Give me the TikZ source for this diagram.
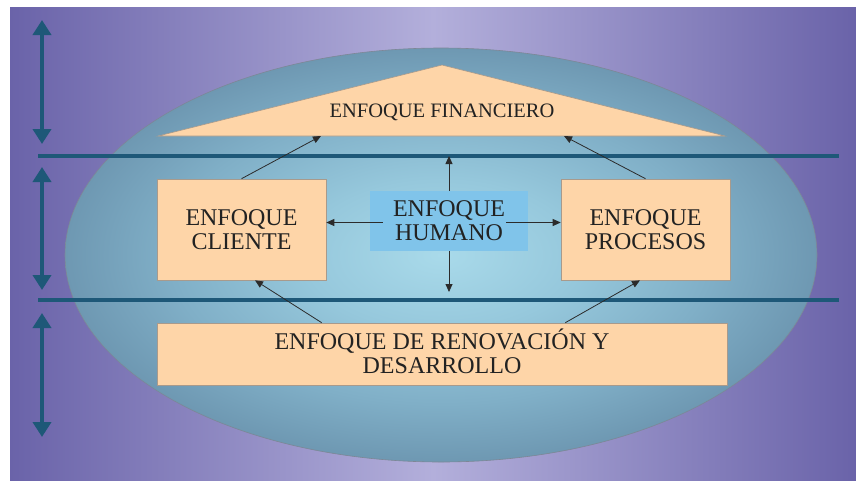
\documentclass[tikz,border=0pt]{standalone}
\usepackage{fontspec}
\setmainfont{Liberation Serif}
\usetikzlibrary{arrows.meta}
\definecolor{bgdark}{HTML}{6A63A9}
\definecolor{bglight}{HTML}{B3AFDB}
\definecolor{elA}{RGB}{169,218,234}
\definecolor{elB}{RGB}{150,200,220}
\definecolor{elC}{RGB}{128,175,199}
\definecolor{elD}{RGB}{110,152,178}
\definecolor{elborder}{HTML}{7D8796}
\definecolor{peach}{HTML}{FED5A8}
\definecolor{peachborder}{HTML}{A89A8C}
\definecolor{humblue}{HTML}{80C4EA}
\definecolor{navy}{HTML}{1E5878}
\definecolor{arrowgray}{HTML}{2B2B2B}
\definecolor{txt}{HTML}{222222}
\pgfdeclareradialshading[elA,elB,elC,elD]{ellglow}{\pgfpoint{0bp}{0bp}}{%
  color(0bp)=(elA);
  color(9bp)=(elB);
  color(18bp)=(elC);
  color(25bp)=(elD);
  color(50bp)=(elD)}
\tikzset{
  peachbox/.style={draw=peachborder, line width=0.6pt, fill=peach, rectangle, inner sep=0pt,
    text=txt, align=center, font=\fontsize{24}{24}\selectfont},
  humbox/.style={fill=humblue, rectangle, inner sep=0pt, text=txt, align=center,
    font=\fontsize{24}{24}\selectfont},
  hline/.style={draw=navy, line width=3.2pt},
  bigarrow/.style={draw=navy, line width=4pt,
    {Triangle[width=18pt,length=15pt]}-{Triangle[width=18pt,length=15pt]}},
  thinarrow/.style={draw=arrowgray, line width=0.8pt, -{Triangle[length=8pt,width=7pt]}}
}
\begin{document}
\begin{tikzpicture}[x=1pt,y=-1pt]
\useasboundingbox (0,0) rectangle (856,480);
\fill[white] (0,0) rectangle (856,480);
% background
\shade[left color=bgdark, right color=bgdark, middle color=bglight] (10,7) rectangle (856,480);
% ellipse
\shadedraw[shading=ellglow, draw=elborder, line width=0.6pt]
  (441,255) ellipse [x radius=376pt, y radius=207pt];
% horizontal lines
\draw[hline] (38,156) -- (839,156);
\draw[hline] (38,300) -- (839,300);
% left double arrows
\draw[bigarrow] (42,20) -- (42,144);
\draw[bigarrow] (42,167) -- (42,290);
\draw[bigarrow] (42,313) -- (42,437);
% financial triangle
\filldraw[fill=peach, draw=peachborder, line width=0.6pt] (158,136) -- (442,65) -- (725,136) -- cycle;
\node[text=txt, font=\fontsize{20.5}{20.5}\selectfont, inner sep=0pt, text depth=0pt] (fin) at (442,110.5) {ENFOQUE FINANCIERO};
\coordinate (finL) at (321,136);
\coordinate (finR) at (564,136);
% boxes
\node[peachbox, minimum width=169pt, minimum height=101pt] (cliente) at (241.5,229.5) {ENFOQUE\\CLIENTE};
\node[peachbox, minimum width=169pt, minimum height=101pt] (procesos) at (645.5,229.5) {ENFOQUE\\PROCESOS};
\node[humbox, minimum width=158pt, minimum height=60pt] (humano) at (449,221) {ENFOQUE\\HUMANO};
\node[peachbox, minimum width=570pt, minimum height=62pt] (renov) at (442,354) {ENFOQUE DE RENOVACI\smash{Ó}N Y\\DESARROLLO};
\coordinate (upend) at (449,156);
\coordinate (downend) at (449,292);
\coordinate (hL) at ([xshift=13pt,yshift=-1.5pt]humano.west);
\coordinate (hR) at ([xshift=-22pt,yshift=-1.5pt]humano.east);
% arrows
\draw[thinarrow] (cliente.north) -- (finL);
\draw[thinarrow] (procesos.north) -- (finR);
\draw[thinarrow] (humano.north) -- (upend);
\draw[thinarrow] (humano.south) -- (downend);
\draw[thinarrow] (hL) -- (cliente.east |- hL);
\draw[thinarrow] (hR) -- (procesos.west |- hR);
\draw[thinarrow] ([xshift=165pt]renov.north west) -- ([xshift=13.5pt]cliente.south);
\draw[thinarrow] ([xshift=-162pt]renov.north east) -- ([xshift=-5.5pt]procesos.south);
\end{tikzpicture}
\end{document}
